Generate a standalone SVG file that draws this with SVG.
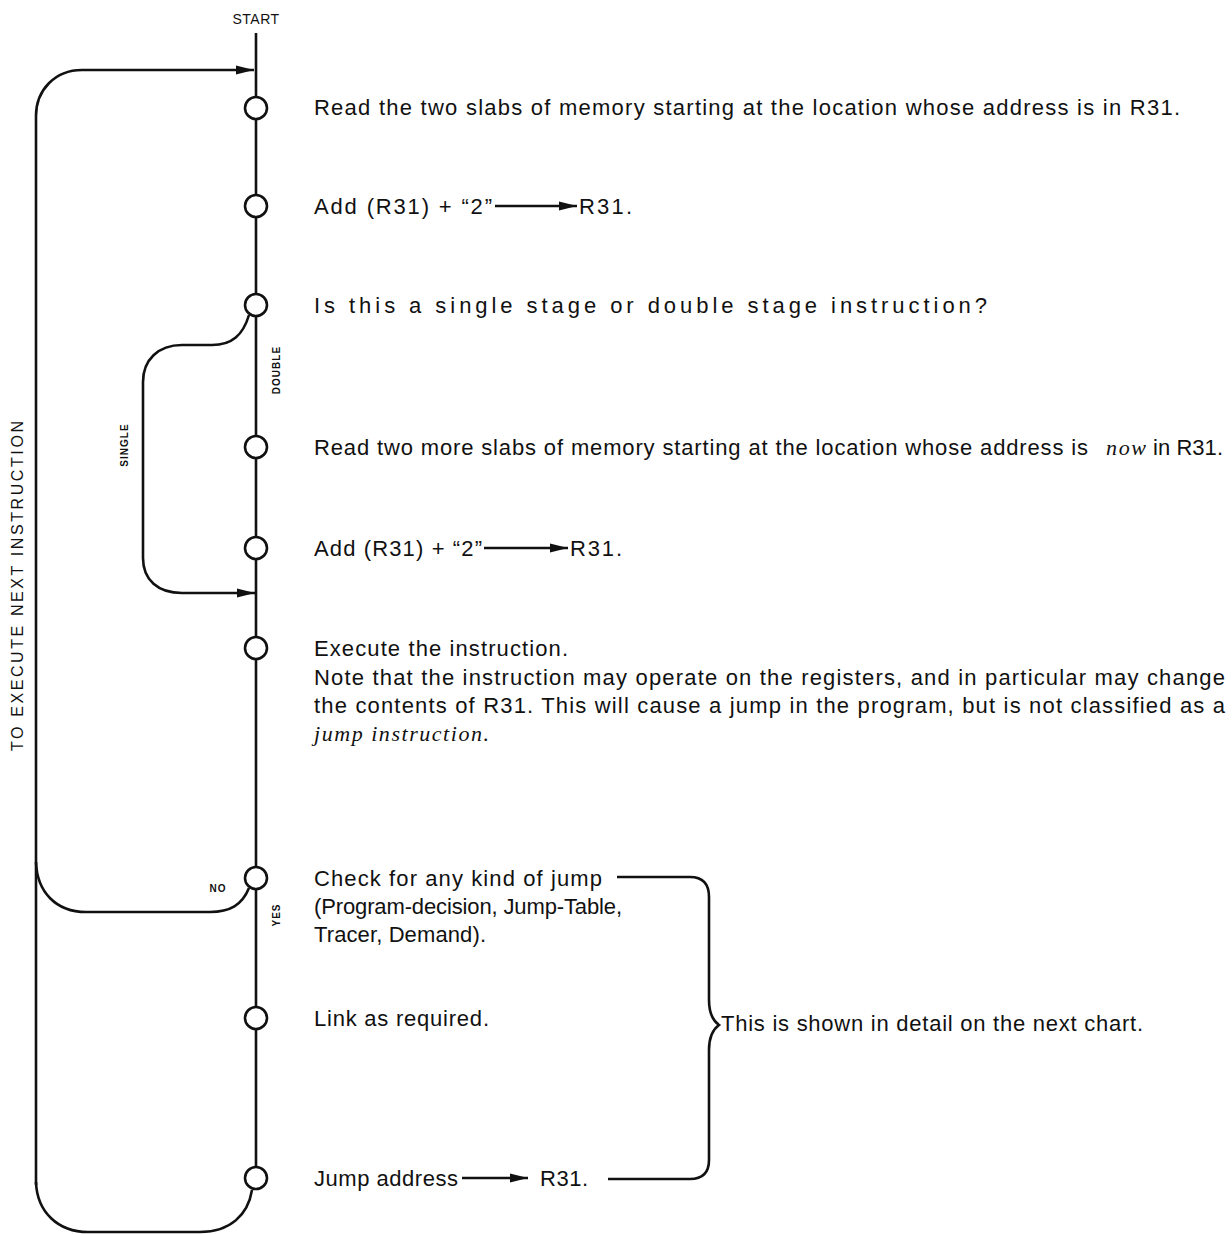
<svg xmlns="http://www.w3.org/2000/svg" width="1232" height="1234" viewBox="0 0 1232 1234">
<style>
.t{font-family:"Liberation Sans","DejaVu Sans",sans-serif;font-size:22px;fill:#111}
.i{font-family:"Liberation Serif","DejaVu Serif",serif;font-style:italic;font-size:22px;fill:#111}
.s{font-family:"Liberation Sans","DejaVu Sans",sans-serif;font-size:10px;font-weight:bold;fill:#111;letter-spacing:1px}
.ln{fill:none;stroke:#111;stroke-width:2.6}
.ta{fill:none;stroke:#111;stroke-width:2.4}
.node circle{fill:#fff;stroke:#111;stroke-width:2.6}
</style>
<defs>
<marker id="ah" viewBox="0 0 18 10" refX="18" refY="5" markerWidth="18" markerHeight="10" markerUnits="userSpaceOnUse" orient="auto">
<path d="M0 0.5 L18 5 L0 9.5 Z" fill="#111"/>
</marker>
</defs>

<text x="256" y="24" text-anchor="middle" font-family="Liberation Sans, sans-serif" font-size="14" fill="#111" letter-spacing="0.5">START</text>

<g id="connectors">
<line class="ln" x1="256" y1="33" x2="256" y2="1167"/>
<path class="ln" d="M 36 1185 V 116 C 36 90 55 70 82 70 H 254" marker-end="url(#ah)"/>
<path class="ln" d="M 249 315 C 243 335 232 345 212 345 H 182 C 158 345 143 360 143 382 V 558 C 143 580 158 593 182 593 H 255" marker-end="url(#ah)"/>
<path class="ln" d="M 249 888 C 242 905 230 912 210 912 H 86 C 56 912 37 892 36 862"/>
<path class="ln" d="M 252 1190 C 248 1215 230 1232 200 1232 H 88 C 58 1232 37 1212 36 1182"/>
<path class="ln" d="M 617 877 H 690 C 703 877 709 884 709 897 V 1000 C 709 1013 712 1020 719 1025 C 712 1030 709 1037 709 1050 V 1160 C 709 1172 703 1179 690 1179 H 608"/>
</g>

<text class="s" x="218" y="892" text-anchor="middle">NO</text>
<text class="s" transform="rotate(-90 280 915)" x="280" y="915" text-anchor="middle">YES</text>
<text class="s" transform="rotate(-90 280 370)" x="280" y="370" text-anchor="middle">DOUBLE</text>
<text class="s" transform="rotate(-90 128 445)" x="128" y="445" text-anchor="middle">SINGLE</text>
<text transform="rotate(-90 23 586)" x="23" y="586" text-anchor="middle" font-family="Liberation Sans, sans-serif" font-size="16" fill="#111" textLength="330" lengthAdjust="spacing">TO EXECUTE NEXT INSTRUCTION</text>

<g id="n1" class="node"><circle cx="256" cy="108" r="11"/>
<text class="t" x="314" y="115" textLength="866" lengthAdjust="spacing">Read the two slabs of memory starting at the location whose address is in R31.</text></g>

<g id="n2" class="node"><circle cx="256" cy="206" r="11"/>
<text class="t" x="314" y="214" textLength="178" lengthAdjust="spacing">Add (R31) + “2”</text>
<line class="ta" x1="495" y1="206" x2="577" y2="206" marker-end="url(#ah)"/>
<text class="t" x="579" y="214" textLength="53" lengthAdjust="spacing">R31.</text></g>

<g id="n3" class="node"><circle cx="256" cy="305" r="11"/>
<text class="t" x="314" y="313" textLength="673" lengthAdjust="spacing">Is this a single stage or double stage instruction?</text></g>

<g id="n4" class="node"><circle cx="256" cy="447" r="11"/>
<text class="t" x="314" y="455" textLength="774" lengthAdjust="spacing">Read two more slabs of memory starting at the location whose address is</text>
<text class="i" x="1106" y="455" textLength="40" lengthAdjust="spacing">now</text>
<text class="t" x="1153" y="455" textLength="70" lengthAdjust="spacing">in R31.</text></g>

<g id="n5" class="node"><circle cx="256" cy="548" r="11"/>
<text class="t" x="314" y="556" textLength="168" lengthAdjust="spacing">Add (R31) + “2”</text>
<line class="ta" x1="484" y1="548" x2="568" y2="548" marker-end="url(#ah)"/>
<text class="t" x="570" y="556" textLength="52" lengthAdjust="spacing">R31.</text></g>

<g id="n6" class="node"><circle cx="256" cy="648" r="11"/>
<text class="t" x="314" y="656" textLength="254" lengthAdjust="spacing">Execute the instruction.</text>
<text class="t" x="314" y="685" textLength="911" lengthAdjust="spacing">Note that the instruction may operate on the registers, and in particular may change</text>
<text class="t" x="314" y="713" textLength="911" lengthAdjust="spacing">the contents of R31. This will cause a jump in the program, but is not classified as a</text>
<text class="i" x="314" y="741" textLength="175" lengthAdjust="spacing">jump instruction.</text></g>

<g id="n7" class="node"><circle cx="256" cy="878" r="11"/>
<text class="t" x="314" y="886" textLength="288" lengthAdjust="spacing">Check for any kind of jump</text>
<text class="t" x="314" y="914" textLength="308" lengthAdjust="spacing">(Program-decision, Jump-Table,</text>
<text class="t" x="314" y="942" textLength="172" lengthAdjust="spacing">Tracer, Demand).</text></g>

<g id="n8" class="node"><circle cx="256" cy="1018" r="11"/>
<text class="t" x="314" y="1026" textLength="175" lengthAdjust="spacing">Link as required.</text></g>

<g id="n9" class="node"><circle cx="256" cy="1178" r="11"/>
<text class="t" x="314" y="1186" textLength="144" lengthAdjust="spacing">Jump address</text>
<line class="ta" x1="462" y1="1178" x2="528" y2="1178" marker-end="url(#ah)"/>
<text class="t" x="540" y="1186" textLength="48" lengthAdjust="spacing">R31.</text></g>

<g id="note"><text class="t" x="721" y="1031" textLength="422" lengthAdjust="spacing">This is shown in detail on the next chart.</text></g>
</svg>
